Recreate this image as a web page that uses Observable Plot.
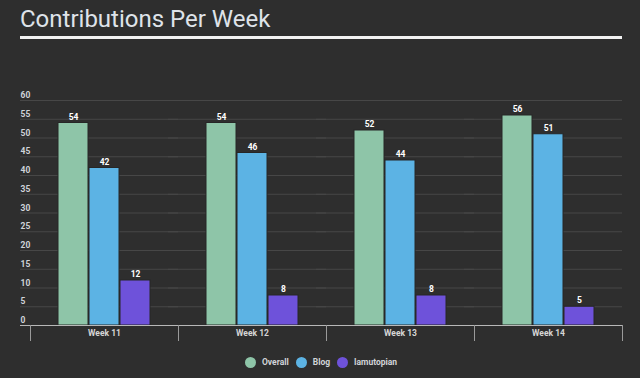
<!DOCTYPE html>
<html><head><meta charset="utf-8">
<script src="https://cdn.jsdelivr.net/npm/d3@7"></script>
<script src="https://cdn.jsdelivr.net/npm/@observablehq/plot@0.6"></script>
<style>
html,body{margin:0;padding:0;background:#2e2e2e;}
#wrap{position:relative;width:640px;height:378px;overflow:hidden;font-family:Roboto,sans-serif;}
#title{position:absolute;left:20px;top:7px;font-size:24px;line-height:24px;color:#dfe3e9;white-space:nowrap;}
#rule{position:absolute;left:20px;top:36px;width:602px;height:3px;background:#f2f2f2;}
#chart{position:absolute;left:0;top:40px;}
#legend{position:absolute;left:245px;top:355px;height:14px;display:flex;align-items:center;font-size:8.5px;font-weight:bold;color:#d2d4d8;white-space:nowrap;}
#legend .sw{display:inline-block;width:11px;height:11px;border-radius:50%;margin-right:6px;}
#legend .lab{margin-right:7px;}
</style></head>
<body><div id="wrap">
<div id="title">Contributions Per Week</div>
<div id="rule"></div>
<div id="chart"></div>
<div id="legend"></div>
</div>
<script>
const weeks = ["Week 11", "Week 12", "Week 13", "Week 14"];
const series = ["Overall", "Blog", "Iamutopian"];
const overall = [54, 54, 52, 56];
const blog = [42, 46, 44, 51];
const iamutopian = [12, 8, 8, 5];
const colors = ["#8ec5a8", "#5cb3e4", "#6e52da"];
const yTicks = [0, 5, 10, 15, 20, 25, 30, 35, 40, 45, 50, 55, 60];

const valuesBySeries = {Overall: overall, Blog: blog, Iamutopian: iamutopian};
const data = weeks.flatMap((w, i) => series.map(s => ({week: w, series: s, value: valuesBySeries[s][i]})));

const chart = Plot.plot({
  width: 640, height: 308,
  marginTop: 60, marginBottom: 23, marginLeft: 30, marginRight: 18,
  style: {background: "transparent", fontFamily: "Roboto, sans-serif", color: "#d0d4da"},
  fx: {domain: weeks, padding: 0, label: null},
  x: {domain: series, paddingInner: 0.03, paddingOuter: 0.9, axis: null},
  y: {domain: [0, 60]},
  color: {domain: series, range: colors},
  marks: [
    Plot.ruleY(yTicks.slice(1), {stroke: "#474747", insetLeft: -10}),
    Plot.barY(data, {fx: "week", x: "series", y: "value", fill: "series", stroke: "#262626", strokeWidth: 1}),
    Plot.ruleY([0], {stroke: "#b8b8b8", insetLeft: -10}),
    Plot.frame({anchor: "left", insetTop: 225, insetBottom: -15, stroke: "#9a9a9a"}),
    Plot.frame({anchor: "right", insetTop: 225, insetBottom: -15, stroke: "#9a9a9a"}),
    Plot.axisY(yTicks, {anchor: "left", tickSize: 0, tickPadding: 10, textAnchor: "start", dy: -5, fontSize: 8.5, fontWeight: "bold", fill: "#cfd3d9", label: null}),
    Plot.axisFx({anchor: "bottom", tickSize: 0, tickPadding: 4, fontWeight: "bold", fontSize: 8.5, fill: "#d6d6d6", label: null}),
    Plot.text(data, {fx: "week", x: "series", y: "value", text: "value", dy: -6, fill: "#ffffff", fontWeight: "bold", fontSize: 8.5})
  ]
});
document.getElementById("chart").appendChild(chart);

const legend = document.getElementById("legend");
series.forEach((s, i) => {
  const sw = document.createElement("span");
  sw.className = "sw";
  sw.style.background = colors[i];
  const lab = document.createElement("span");
  lab.className = "lab";
  lab.textContent = s;
  legend.appendChild(sw);
  legend.appendChild(lab);
});
</script>
</body></html>
